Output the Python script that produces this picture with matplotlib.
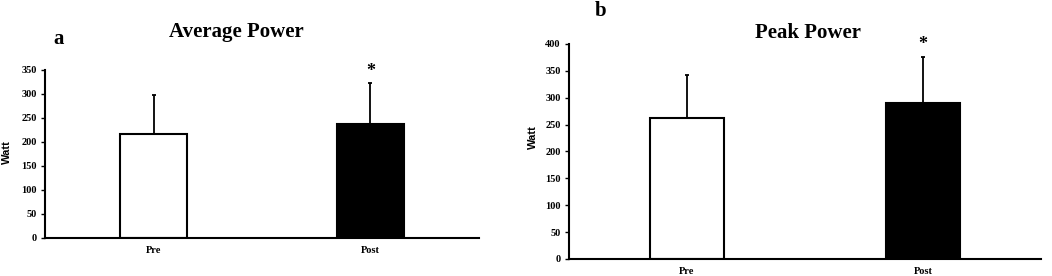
"""
Average and peak power, pre vs post
"""

import matplotlib
matplotlib.use("Agg")
import matplotlib.pyplot as plt

groups = ["Pre", "Post"]
avg_power = [216, 238]
avg_sd = [81, 84]
peak_power = [262, 291]
peak_sd = [80, 85]
bar_colors = ["white", "black"]

SERIF = "Liberation Serif"
SANS = "Liberation Sans"


def draw_panel(ax, means, sds, ymax, ystep, title):
    x = range(len(groups))
    ax.bar(x, means, width=0.31, color=bar_colors, edgecolor="black", linewidth=1.5, zorder=2)
    ax.errorbar(x, means, yerr=[[0, 0], sds], fmt="none", ecolor="black",
                elinewidth=1.3, capsize=1.5, capthick=1.3, zorder=1)
    # significance marker above the post bar
    ax.text(1, means[1] + sds[1] + ymax * 0.02, "*", ha="center", va="bottom",
            fontsize=13, fontweight="bold", family=SERIF)

    ax.set_xlim(-0.5, 1.5)
    ax.set_ylim(0, ymax)
    ax.set_yticks(range(0, ymax + 1, ystep))
    ax.set_xticks(list(x))
    ax.set_xticklabels(groups)
    ax.tick_params(axis="x", length=0, pad=6)
    ax.tick_params(axis="y", length=3, width=1, pad=3)
    for lab in ax.get_xticklabels() + ax.get_yticklabels():
        lab.set_family(SERIF)
        lab.set_fontweight("bold")
        lab.set_fontsize(7.5)
    for s in ["top", "right"]:
        ax.spines[s].set_visible(False)
    for s in ["left", "bottom"]:
        ax.spines[s].set_linewidth(1.5)
    ax.set_ylabel("Watt", family=SANS, fontweight="bold", fontsize=8)
    return ax


fig = plt.figure(figsize=(10.52, 2.76), dpi=100)

ax1 = fig.add_axes([0.0428, 0.1377, 0.4125, 0.6087])
draw_panel(ax1, avg_power, avg_sd, 350, 50, "Average Power")
ax1.yaxis.set_label_coords(-0.076, 0.51)

ax2 = fig.add_axes([0.5409, 0.0616, 0.4487, 0.779])
draw_panel(ax2, peak_power, peak_sd, 400, 50, "Peak Power")
ax2.yaxis.set_label_coords(-0.066, 0.567)

fig.text(236 / 1052, 1 - 32 / 276, "Average Power", ha="center", va="center",
         family=SERIF, fontweight="bold", fontsize=15)
fig.text(808 / 1052, 1 - 33 / 276, "Peak Power", ha="center", va="center",
         family=SERIF, fontweight="bold", fontsize=15)
fig.text(59 / 1052, 1 - 39 / 276, "a", ha="center", va="center",
         family=SERIF, fontweight="bold", fontsize=15)
fig.text(601 / 1052, 1 - 11 / 276, "b", ha="center", va="center",
         family=SERIF, fontweight="bold", fontsize=15)

fig.savefig("out.png", dpi=100, facecolor="white")
